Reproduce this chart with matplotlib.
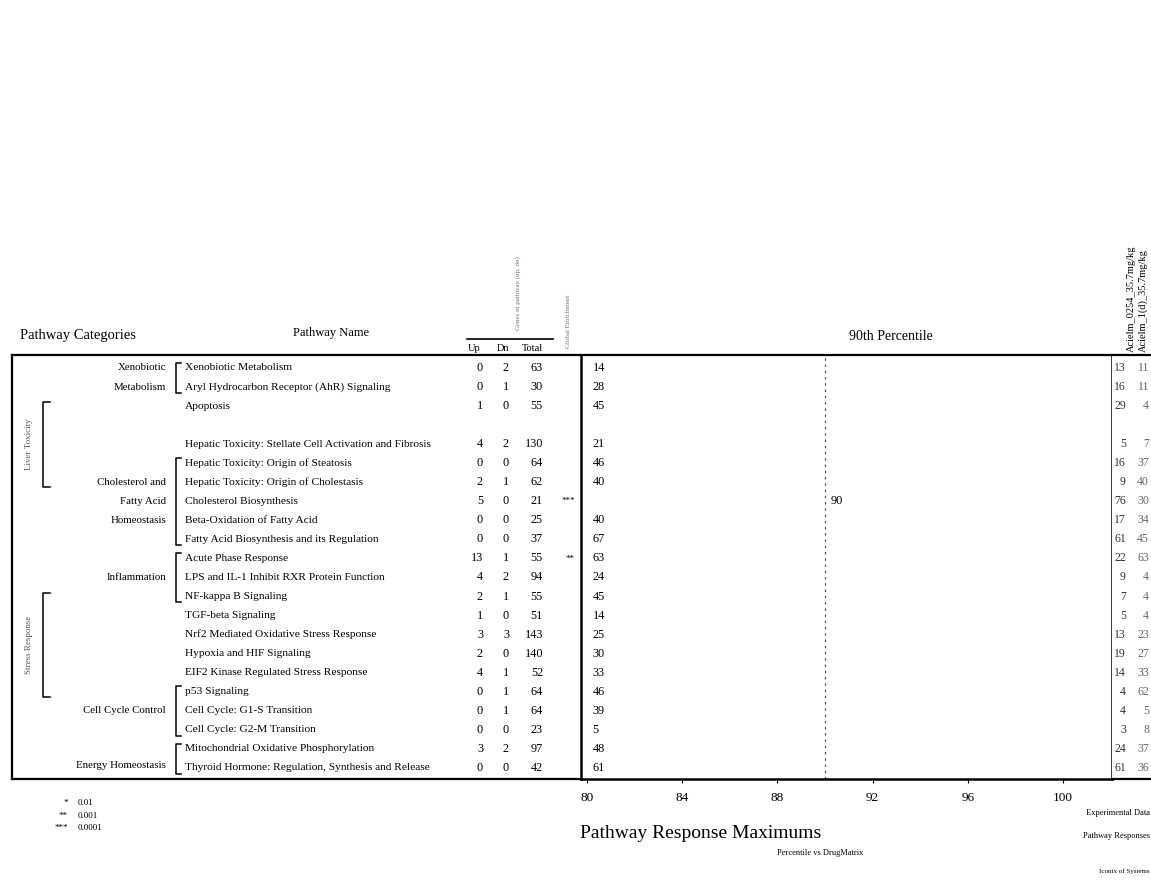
import numpy as np
import matplotlib
matplotlib.use("Agg")
import matplotlib.pyplot as plt
from matplotlib.lines import Line2D

plt.rcParams['font.family'] = ['Liberation Serif', 'DejaVu Serif']

# pathway rows (None = empty spacer row)
pathways = [
    "Xenobiotic Metabolism",
    "Aryl Hydrocarbon Receptor (AhR) Signaling",
    "Apoptosis",
    None,
    "Hepatic Toxicity: Stellate Cell Activation and Fibrosis",
    "Hepatic Toxicity: Origin of Steatosis",
    "Hepatic Toxicity: Origin of Cholestasis",
    "Cholesterol Biosynthesis",
    "Beta-Oxidation of Fatty Acid",
    "Fatty Acid Biosynthesis and its Regulation",
    "Acute Phase Response",
    "LPS and IL-1 Inhibit RXR Protein Function",
    "NF-kappa B Signaling",
    "TGF-beta Signaling",
    "Nrf2 Mediated Oxidative Stress Response",
    "Hypoxia and HIF Signaling",
    "EIF2 Kinase Regulated Stress Response",
    "p53 Signaling",
    "Cell Cycle: G1-S Transition",
    "Cell Cycle: G2-M Transition",
    "Mitochondrial Oxidative Phosphorylation",
    "Thyroid Hormone: Regulation, Synthesis and Release",
]
up = [0, 0, 1, None, 4, 0, 2, 5, 0, 0, 13, 4, 2, 1, 3, 2, 4, 0, 0, 0, 3, 0]
dn = [2, 1, 0, None, 2, 0, 1, 0, 0, 0, 1, 2, 1, 0, 3, 0, 1, 1, 1, 0, 2, 0]
total = [63, 30, 55, None, 130, 64, 62, 21, 25, 37, 55, 94, 55, 51, 143, 140, 52, 64, 64, 23, 97, 42]
signif = ["", "", "", "", "", "", "", "***", "", "", "**", "", "", "", "", "", "", "", "", "", "", ""]
percentile = [14, 28, 45, np.nan, 21, 46, 40, 90, 40, 67, 63, 24, 45, 14, 25, 30, 33, 46, 39, 5, 48, 61]
exp1 = [13, 16, 29, None, 5, 16, 9, 76, 17, 61, 22, 9, 7, 5, 13, 19, 14, 4, 4, 3, 24, 61]
exp2 = [11, 11, 4, None, 7, 37, 40, 30, 34, 45, 63, 4, 4, 4, 23, 27, 33, 62, 5, 8, 37, 36]
exp_labels = ["Acielm_0254_35.7mg/kg", "Acielm_1(d)_35.7mg/kg"]

# (label lines, first row, last row, label row)
categories = [
    (["Xenobiotic", "Metabolism"], 0, 1, 0),
    (["Cholesterol and", "Fatty Acid", "Homeostasis"], 5, 9, 6),
    (["Inflammation"], 10, 12, 11),
    (["Cell Cycle Control"], 17, 19, 18),
    (["Energy Homeostasis"], 20, 21, 20.85),
]
outer_groups = [("Liver Toxicity", 2, 6), ("Stress Response", 12, 17)]

sig_levels = ["*", "**", "***"]
sig_values = ["0.01", "0.001", "0.0001"]

pct_ticks = [80, 84, 88, 92, 96, 100]
pct_line = 90

W, H = 1151, 880


def fx(x):
    return x / W


def fy(y):
    return 1 - y / H


fig = plt.figure(figsize=(W / 100, H / 100), dpi=100)
top, bot = 355, 779
ylim = (21.58, -0.68)
rows = np.arange(len(pathways))

# left table part
ax_tab = fig.add_axes([fx(12), fy(bot), fx(581) - fx(12), (bot - top) / H])
ax_tab.set_xlim(12, 581)
ax_tab.set_ylim(*ylim)
ax_tab.set_xticks([])
ax_tab.set_yticks([])
ax_tab.spines['right'].set_visible(False)
for s in ['left', 'top', 'bottom']:
    ax_tab.spines[s].set_linewidth(1.6)

for i, name in enumerate(pathways):
    if name is None:
        continue
    ax_tab.text(185, i, name, ha='left', va='center', fontsize=8.2)
    ax_tab.text(483, i, str(up[i]), ha='right', va='center', fontsize=8.8)
    ax_tab.text(509, i, str(dn[i]), ha='right', va='center', fontsize=8.8)
    ax_tab.text(543, i, str(total[i]), ha='right', va='center', fontsize=8.8)
    if signif[i]:
        ax_tab.text(575, i, signif[i], ha='right', va='center', fontsize=6.5)

for lines, r0, r1, rl in categories:
    for k, t in enumerate(lines):
        ax_tab.text(166, rl + k, t, ha='right', va='center', fontsize=7.8)
    y0, y1 = r0 - 0.28, r1 + 0.3
    ax_tab.plot([181, 176, 176, 181], [y0, y0, y1, y1], color='black', lw=1.1)

for label, r0, r1 in outer_groups:
    y0, y1 = r0 - 0.2, r1 + 0.25
    ax_tab.plot([50, 43, 43, 50], [y0, y0, y1, y1], color='black', lw=1.1)
    ax_tab.text(29, (y0 + y1) / 2, label, rotation=90, ha='center', va='center',
                fontsize=6.5, color='#555555')

# percentile plot
ax = fig.add_axes([fx(581), fy(bot), (1112 - 581) / W, (bot - top) / H])
ax.set_xlim(79.75, 102.06)
ax.set_ylim(*ylim)
ax.set_yticks([])
ax.set_xticks(pct_ticks)
ax.set_xticklabels([str(t) for t in pct_ticks], fontsize=9.5)
ax.tick_params(axis='x', direction='out', length=3, pad=6)
for s in ['left', 'right', 'bottom']:
    ax.spines[s].set_linewidth(1.8)
ax.spines['top'].set_linewidth(1.6)
ax.axvline(pct_line, color='#555555', lw=0.9, ls=(0, (2, 3)))
for i, v in enumerate(percentile):
    if np.isnan(v):
        continue
    ax.annotate(str(int(v)), (max(v, 80), i), xytext=(4, 0), textcoords='offset points',
                ha='left', va='center', fontsize=8.8)

# experimental columns on the right
ax_r = fig.add_axes([fx(1112), fy(bot), (W - 1112) / W, (bot - top) / H])
ax_r.set_xlim(1112, W)
ax_r.set_ylim(*ylim)
ax_r.set_xticks([])
ax_r.set_yticks([])
for s in ['left', 'right']:
    ax_r.spines[s].set_visible(False)
for s in ['top', 'bottom']:
    ax_r.spines[s].set_linewidth(1.6)
for i in rows:
    if exp1[i] is None:
        continue
    ax_r.text(1126, i, str(exp1[i]), ha='right', va='center', fontsize=8.5, color='#333333')
    ax_r.text(1149, i, str(exp2[i]), ha='right', va='center', fontsize=8.5, color='#666666')
for k, lab in enumerate(exp_labels):
    fig.text(fx(1131 + 12 * k), fy(352), lab, rotation=90, ha='center', va='bottom',
             fontsize=7.5)

# headers
fig.text(fx(20), fy(335), "Pathway Categories", ha='left', va='center', fontsize=10.5)
fig.text(fx(331), fy(333), "Pathway Name", ha='center', va='center', fontsize=9)
fig.text(fx(474), fy(348), "Up", ha='center', va='center', fontsize=7.5)
fig.text(fx(503), fy(348), "Dn", ha='center', va='center', fontsize=7.5)
fig.text(fx(532), fy(348), "Total", ha='center', va='center', fontsize=7.5)
fig.add_artist(Line2D([fx(467), fx(553)], [fy(339), fy(339)], color='black', lw=1.2,
                      transform=fig.transFigure))
fig.text(fx(518), fy(330), "Genes in pathway (up, dn)", rotation=90, ha='center',
         va='bottom', fontsize=5, color='#777777')
fig.text(fx(568), fy(348), "Global Enrichment", rotation=90, ha='center',
         va='bottom', fontsize=5, color='#777777')
fig.text(fx(891), fy(336), "90th Percentile", ha='center', va='center', fontsize=10)

# significance legend
for k, (st, val) in enumerate(zip(sig_levels, sig_values)):
    fig.text(fx(68), fy(803 + 12.5 * k), st, ha='right', va='center', fontsize=6.5)
    fig.text(fx(78), fy(803 + 12.5 * k), val, ha='left', va='center', fontsize=6.5)

# bottom captions
fig.text(fx(580), fy(833), "Pathway Response Maximums", ha='left', va='center', fontsize=14)
fig.text(fx(820), fy(853), "Percentile vs DrugMatrix", ha='center', va='center', fontsize=6)
fig.text(fx(1150), fy(813), "Experimental Data", ha='right', va='center', fontsize=6)
fig.text(fx(1150), fy(836), "Pathway Responses", ha='right', va='center', fontsize=6)
fig.text(fx(1150), fy(871), "Iconix of Systems", ha='right', va='center', fontsize=5)

fig.savefig("out.png", dpi=100)
